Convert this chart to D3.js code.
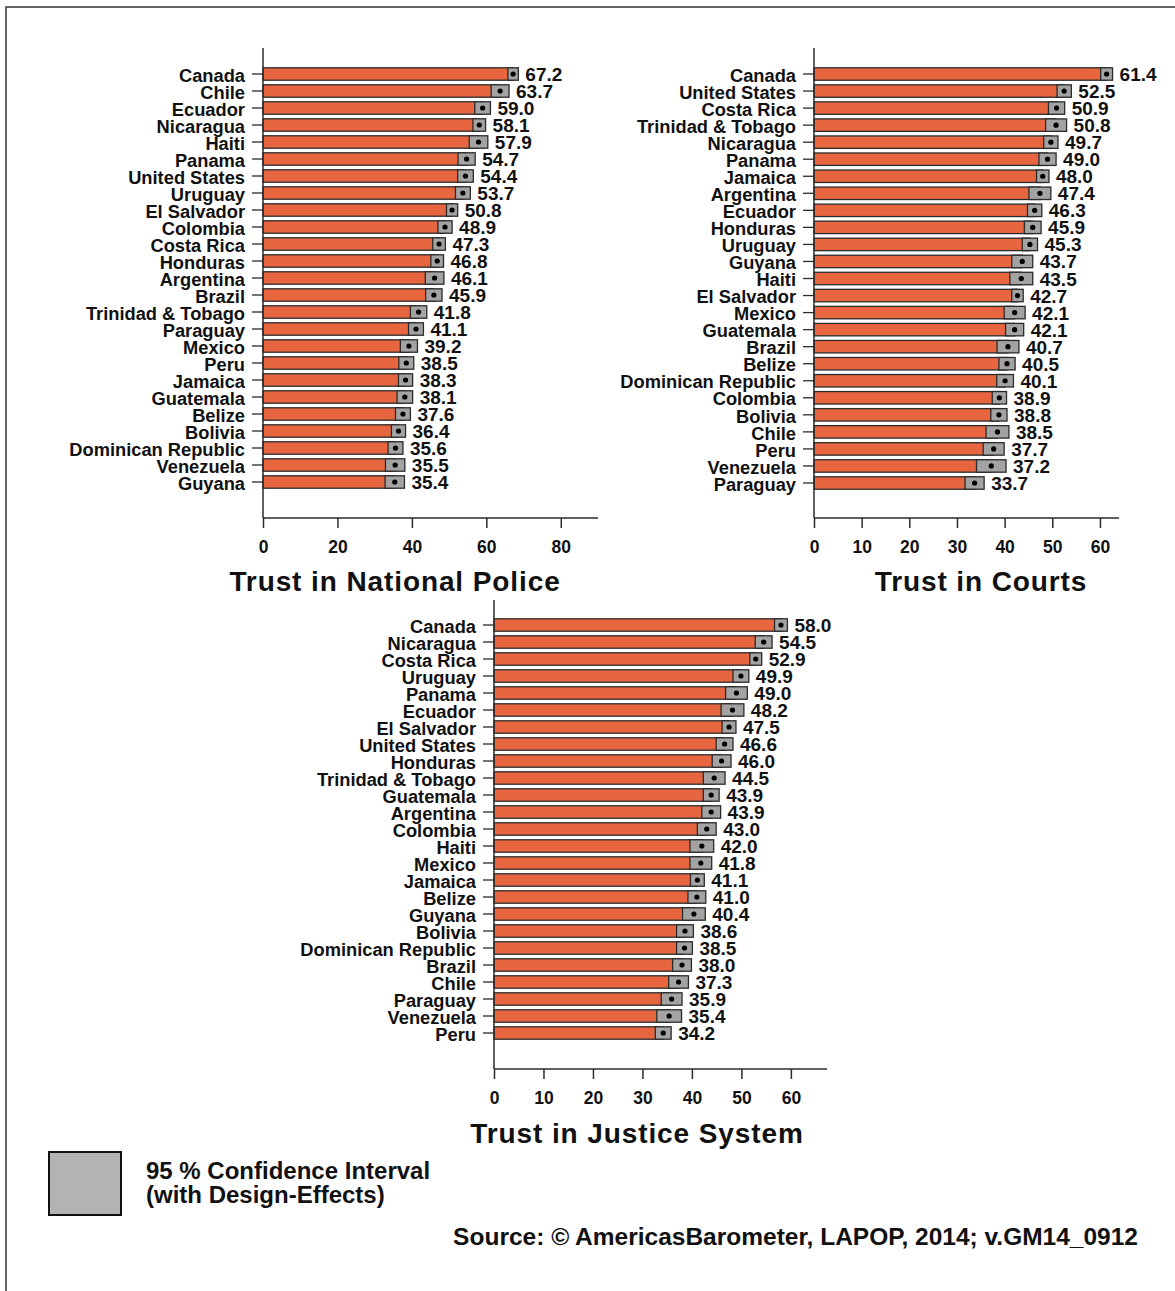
<!DOCTYPE html>
<html><head><meta charset="utf-8">
<script src="https://cdn.jsdelivr.net/npm/d3@7"></script>
<style>
html,body{margin:0;padding:0;background:#fff;}
svg{display:block;font-family:"Liberation Sans",Arial,Helvetica,sans-serif;}
</style></head>
<body>
<svg id="chart" width="1175" height="1291"></svg>
<script>
// ---------- DATA ----------
const policeCountries = ["Canada","Chile","Ecuador","Nicaragua","Haiti","Panama","United States","Uruguay","El Salvador","Colombia","Costa Rica","Honduras","Argentina","Brazil","Trinidad & Tobago","Paraguay","Mexico","Peru","Jamaica","Guatemala","Belize","Bolivia","Dominican Republic","Venezuela","Guyana"];
const policeValues = [67.2,63.7,59.0,58.1,57.9,54.7,54.4,53.7,50.8,48.9,47.3,46.8,46.1,45.9,41.8,41.1,39.2,38.5,38.3,38.1,37.6,36.4,35.6,35.5,35.4];
const policeMargins = [1.4,2.4,2.1,1.7,2.5,2.3,2.1,2.0,1.5,1.9,1.7,1.7,2.5,2.2,2.2,2.0,2.3,2.0,1.9,2.1,2.0,1.9,2.0,2.6,2.6];

const courtsCountries = ["Canada","United States","Costa Rica","Trinidad & Tobago","Nicaragua","Panama","Jamaica","Argentina","Ecuador","Honduras","Uruguay","Guyana","Haiti","El Salvador","Mexico","Guatemala","Brazil","Belize","Dominican Republic","Colombia","Bolivia","Chile","Peru","Venezuela","Paraguay"];
const courtsValues = [61.4,52.5,50.9,50.8,49.7,49.0,48.0,47.4,46.3,45.9,45.3,43.7,43.5,42.7,42.1,42.1,40.7,40.5,40.1,38.9,38.8,38.5,37.7,37.2,33.7];
const courtsMargins = [1.25,1.5,1.7,2.2,1.5,1.8,1.3,2.3,1.5,1.75,1.6,2.2,2.4,1.2,2.2,1.9,2.3,1.7,1.75,1.5,1.7,2.4,2.2,3.1,2.0];

const justiceCountries = ["Canada","Nicaragua","Costa Rica","Uruguay","Panama","Ecuador","El Salvador","United States","Honduras","Trinidad & Tobago","Guatemala","Argentina","Colombia","Haiti","Mexico","Jamaica","Belize","Guyana","Bolivia","Dominican Republic","Brazil","Chile","Paraguay","Venezuela","Peru"];
const justiceValues = [58.0,54.5,52.9,49.9,49.0,48.2,47.5,46.6,46.0,44.5,43.9,43.9,43.0,42.0,41.8,41.1,41.0,40.4,38.6,38.5,38.0,37.3,35.9,35.4,34.2];
const justiceMargins = [1.3,1.7,1.2,1.6,2.2,2.3,1.4,1.7,1.9,2.2,1.6,1.9,1.9,2.4,2.2,1.4,1.8,2.3,1.7,1.6,1.9,2.0,2.1,2.5,1.6];

const policeTicks = [0,20,40,60,80];
const courtsTicks = [0,10,20,30,40,50,60];
const justiceTicks = [0,10,20,30,40,50,60];

const titles = ["Trust in National Police","Trust in Courts","Trust in Justice System"];
const legendLines = ["95 % Confidence Interval","(with Design-Effects)"];
const sourceText = "Source: \u00A9 AmericasBarometer, LAPOP, 2014; v.GM14_0912";

// ---------- STYLE / LAYOUT ----------
const ORANGE = "#E8663F", CI_FILL = "#A3A3A3", DARK = "#2b2b2b";
const svg = d3.select("#chart");

// frame
svg.append("path").attr("d","M6,1291 V7 H1175").attr("fill","none").attr("stroke","#333").attr("stroke-width",1.5);

const panels = [
  {countries:policeCountries, values:policeValues, margins:policeMargins, ticks:policeTicks,
   xDom:[0,90], xRange:[263,598], axisTop:48, axisBottom:518, first:74, last:482, title:titles[0], titleX:395, titleY:591},
  {countries:courtsCountries, values:courtsValues, margins:courtsMargins, ticks:courtsTicks,
   xDom:[0,64], xRange:[814,1119], axisTop:48, axisBottom:518, first:74, last:483, title:titles[1], titleX:981, titleY:591},
  {countries:justiceCountries, values:justiceValues, margins:justiceMargins, ticks:justiceTicks,
   xDom:[0,67.3], xRange:[494,827], axisTop:600, axisBottom:1069, first:625, last:1033, title:titles[2], titleX:637, titleY:1143}
];

panels.forEach(p => {
  const n = p.countries.length;
  const step = (p.last - p.first) / (n - 1);
  const y = d3.scaleBand().domain(p.countries)
    .range([p.first - step/2, p.last + step/2]).paddingInner(0.27).paddingOuter(0.135);
  const x = d3.scaleLinear().domain(p.xDom).range(p.xRange);
  const g = svg.append("g");
  const data = p.countries.map((c,i) => ({c, v:p.values[i], m:p.margins[i]}));

  // bars
  g.selectAll("rect.bar").data(data).join("rect").attr("class","bar")
    .attr("x", x(0)).attr("y", d => y(d.c))
    .attr("width", d => x(d.v) - x(0)).attr("height", y.bandwidth())
    .attr("fill", ORANGE).attr("stroke", DARK).attr("stroke-width", 1.3);
  // CI boxes
  g.selectAll("rect.ci").data(data).join("rect").attr("class","ci")
    .attr("x", d => x(d.v - d.m)).attr("y", d => y(d.c))
    .attr("width", d => x(d.v + d.m) - x(d.v - d.m)).attr("height", y.bandwidth())
    .attr("fill", CI_FILL).attr("stroke", DARK).attr("stroke-width", 1.3);
  // dots
  g.selectAll("circle").data(data).join("circle")
    .attr("cx", d => x(d.v)).attr("cy", d => y(d.c) + y.bandwidth()/2)
    .attr("r", 2.6).attr("fill", "#000");
  // value labels
  g.selectAll("text.val").data(data).join("text").attr("class","val")
    .attr("x", d => x(d.v + d.m) + 7).attr("y", d => y(d.c) + y.bandwidth()/2)
    .attr("dy","0.37em").attr("font-size",19).attr("font-weight","bold").attr("fill","#111")
    .text(d => d.v.toFixed(1));

  // y axis
  const ya = d3.axisLeft(y).tickSize(11).tickPadding(7);
  const yg = g.append("g").attr("transform",`translate(${x(0)},0)`).call(ya);
  yg.select(".domain").remove();
  yg.selectAll(".tick line").attr("stroke",DARK).attr("stroke-width",1.3);
  yg.selectAll(".tick text").attr("font-size",18.3).attr("font-weight","bold").attr("fill","#111")
    .attr("font-family","'Liberation Sans',Arial,sans-serif").attr("dy","0.42em");
  g.append("line").attr("x1",x(0)).attr("x2",x(0)).attr("y1",p.axisTop).attr("y2",p.axisBottom)
    .attr("stroke",DARK).attr("stroke-width",1.5);

  // x axis
  const xa = d3.axisBottom(x).tickValues(p.ticks).tickSize(10).tickPadding(13).tickFormat(d3.format("d"));
  const xg = g.append("g").attr("transform",`translate(0,${p.axisBottom})`).call(xa);
  xg.select(".domain").remove();
  xg.selectAll(".tick line").attr("stroke",DARK).attr("stroke-width",1.5);
  xg.selectAll(".tick text").attr("font-size",17.5).attr("font-weight","bold").attr("fill","#111")
    .attr("font-family","'Liberation Sans',Arial,sans-serif");
  g.append("line").attr("x1",p.xRange[0]).attr("x2",p.xRange[1]).attr("y1",p.axisBottom).attr("y2",p.axisBottom)
    .attr("stroke",DARK).attr("stroke-width",1.5);

  // title
  g.append("text").attr("x",p.titleX).attr("y",p.titleY).attr("text-anchor","middle")
    .attr("font-size",28).attr("font-weight","bold").attr("letter-spacing","0.9px").attr("fill","#111")
    .text(p.title);
});

// legend
svg.append("rect").attr("x",49).attr("y",1152).attr("width",72).attr("height",63)
  .attr("fill","#B3B3B3").attr("stroke","#111").attr("stroke-width",2);
svg.selectAll("text.leg").data(legendLines).join("text").attr("class","leg")
  .attr("x",146).attr("y",(d,i)=>1179 + i*24).attr("font-size",24).attr("font-weight","bold").attr("fill","#111")
  .text(d=>d);

// source
svg.append("text").attr("x",1138).attr("y",1245).attr("text-anchor","end")
  .attr("font-size",24.5).attr("font-weight","bold").attr("fill","#111").text(sourceText);
</script>
</body></html>
